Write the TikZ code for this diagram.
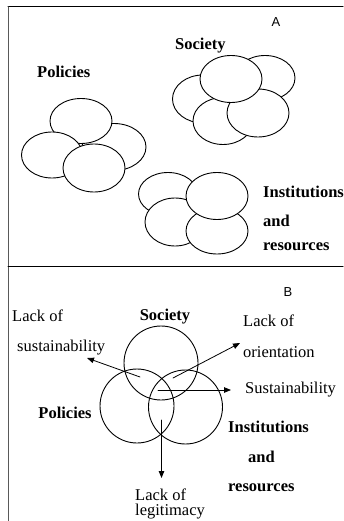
\documentclass[tikz,border=0pt]{standalone}
\usepackage{fontspec}
\setmainfont{Liberation Serif}
\newfontfamily\arialfont{Liberation Sans}
\usetikzlibrary{arrows.meta,shapes.geometric}

\tikzset{
  blob/.style={ellipse,draw,fill=white,line width=0.9pt,inner sep=0pt},
  ring/.style={circle,draw,line width=0.9pt,inner sep=0pt,minimum size=74pt},
  lbl/.style={font=\fontsize{16.5}{19}\selectfont,inner sep=0pt},
  bold/.style={lbl,font=\fontsize{16.5}{19}\selectfont\bfseries},
  letter/.style={font=\arialfont\fontsize{13}{15}\selectfont,inner sep=0pt}
}

\begin{document}
\begin{tikzpicture}[line cap=round,line join=round,>={Triangle[length=7pt,width=5.5pt]},x=1pt,y=-1pt]
        \useasboundingbox (0,0) rectangle (343,521);
        % frame
        \draw [line width=1pt] (8,7) -- (343,7);
        \draw [line width=1.4pt,black!65] (8.5,7) -- (8.5,521);
        \draw [line width=1pt] (8,266) -- (343,266);
        % panel A
        \node[letter] (tA) at (276,22) {A};
        \node[bold,anchor=west] (socA) at (175,46) {Society};
        \node[bold,anchor=west] (polA) at (37,72) {Policies};
        \node[bold,anchor=west] (insA) at (263,192) {Institutions};
        \node[bold,anchor=west] (andA) at (263,221) {and};
        \node[bold,anchor=west] (resA) at (263,247) {resources};
        % policies
        \node[blob,minimum width=64pt,minimum height=47pt] (p1) at (114,147) {};
        \node[blob,minimum width=62pt,minimum height=45pt] (p2) at (81,121) {};
        \node[blob,minimum width=61pt,minimum height=46pt] (p3) at (52,155) {};
        \node[blob,minimum width=62pt,minimum height=48pt] (p4) at (94,168) {};
        % society
        \node[blob,minimum width=61pt,minimum height=48pt] (s1) at (203,99) {};
        \node[blob,minimum width=60pt,minimum height=45pt] (s2) at (265,78) {};
        \node[blob,minimum width=60pt,minimum height=47pt] (s3) at (223,121) {};
        \node[blob,minimum width=62pt,minimum height=48pt] (s4) at (258,113) {};
        \node[blob,minimum width=62pt,minimum height=47pt] (s5) at (231,79) {};
        % institutions
        \node[blob,minimum width=59pt,minimum height=43pt] (i1) at (168,194) {};
        \node[blob,minimum width=60pt,minimum height=48pt] (i2) at (175,222) {};
        \node[blob,minimum width=62pt,minimum height=46pt] (i3) at (217,231) {};
        \node[blob,minimum width=62pt,minimum height=47pt] (i4) at (217,196) {};
        % panel B
        \node[letter] (tB) at (288,292) {B};
        \node[ring] (cSoc) at (161,363) {};
        \node[ring] (cPol) at (137,406) {};
        \node[ring] (cIns) at (185.5,407) {};
        \node[bold] (socB) at (165,317) {Society};
        \node[bold] (polB) at (65,413) {Policies};
        \node[bold,anchor=west] (insB) at (228,427) {Institutions};
        \node[bold,anchor=west] (andB) at (248,457) {and};
        \node[bold,anchor=west] (resB) at (228,488) {resources};
        \node[lbl,anchor=west] (lackS) at (12,316) {Lack of};
        \node[lbl,anchor=west] (sust1) at (17,348) {sustainability};
        \node[lbl,anchor=west] (lackO) at (243,321) {Lack of};
        \node[lbl,anchor=west] (orient) at (243,352) {orientation};
        \node[lbl,anchor=west] (sust2) at (245,390) {Sustainability};
        \node[lbl,anchor=west] (lackL) at (135,495) {Lack of};
        \node[lbl,anchor=west] (legit) at (135,512) {legitimacy};
        % arrows
        \coordinate (a1) at (140,377);
        \coordinate (b1) at (87,358);
        \coordinate (a2) at (173,378);
        \coordinate (b2) at (240,343);
        \coordinate (a3) at (158,390);
        \coordinate (b3) at (231,390);
        \coordinate (a4) at (161.5,420);
        \coordinate (b4) at (161.5,478);
        \draw [->,line width=0.8pt] (a1) -- (b1);
        \draw [->,line width=0.8pt] (a2) -- (b2);
        \draw [->,line width=0.8pt] (a3) -- (b3);
        \draw [->,line width=0.8pt] (a4) -- (b4);
\end{tikzpicture}
\end{document}
